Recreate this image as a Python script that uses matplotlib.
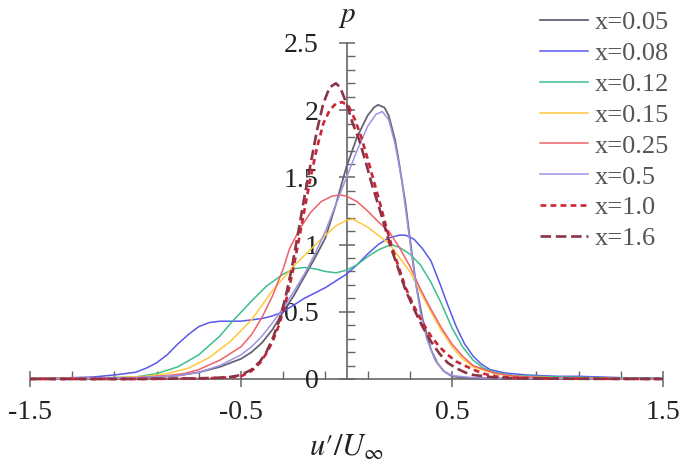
import numpy as np
import matplotlib
matplotlib.use('Agg')
import matplotlib.pyplot as plt
from matplotlib.ticker import MultipleLocator, FixedLocator, FormatStrFormatter

plt.rcParams['font.family'] = ['Liberation Serif', 'DejaVu Serif']
plt.rcParams['mathtext.fontset'] = 'stix'

# probability density of u'/U_inf at several downstream stations
u_005 = [-1.5, -1.2, -1.0, -0.9, -0.8, -0.7, -0.6, -0.5, -0.45, -0.4, -0.35, -0.3, -0.25, -0.2,
         -0.15, -0.1, -0.05, 0.0, 0.05, 0.1, 0.13, 0.15, 0.18, 0.2, 0.23, 0.25, 0.28, 0.3, 0.33,
         0.36, 0.4, 0.43, 0.46, 0.5, 0.55, 0.6, 0.8, 1.0, 1.5]
p_005 = [0.0, 0.005, 0.01, 0.015, 0.025, 0.05, 0.09, 0.15, 0.2, 0.27, 0.37, 0.5, 0.62, 0.76,
         0.9, 1.05, 1.3, 1.58, 1.8, 1.96, 2.02, 2.04, 2.02, 1.96, 1.78, 1.6, 1.3, 1.05, 0.7,
         0.45, 0.22, 0.12, 0.06, 0.02, 0.01, 0.005, 0.003, 0.002, 0.0]

u_008 = [-1.5, -1.3, -1.2, -1.1, -1.0, -0.95, -0.9, -0.85, -0.8, -0.75, -0.7, -0.65, -0.6, -0.55,
         -0.5, -0.45, -0.4, -0.35, -0.3, -0.25, -0.2, -0.15, -0.1, -0.05, 0.0, 0.05, 0.1, 0.15,
         0.2, 0.25, 0.28, 0.32, 0.36, 0.4, 0.44, 0.48, 0.52, 0.56, 0.6, 0.64, 0.68, 0.75, 0.85,
         1.0, 1.1, 1.2, 1.3, 1.5]
p_008 = [0.005, 0.01, 0.015, 0.03, 0.05, 0.08, 0.12, 0.18, 0.26, 0.33, 0.39, 0.42, 0.43, 0.43,
         0.43, 0.44, 0.45, 0.47, 0.5, 0.55, 0.6, 0.64, 0.68, 0.73, 0.78, 0.85, 0.93, 1.0,
         1.05, 1.07, 1.07, 1.04, 0.97, 0.88, 0.72, 0.55, 0.39, 0.26, 0.17, 0.11, 0.07, 0.045, 0.03,
         0.02, 0.02, 0.015, 0.01, 0.005]

u_012 = [-1.5, -1.2, -1.0, -0.9, -0.8, -0.7, -0.6, -0.54, -0.45, -0.38, -0.3, -0.25, -0.2, -0.15,
         -0.1, -0.05, 0.0, 0.05, 0.1, 0.15, 0.21, 0.25, 0.3, 0.35, 0.4, 0.45, 0.5, 0.55, 0.6,
         0.65, 0.7, 0.8, 1.0, 1.2, 1.5]
p_012 = [0.005, 0.008, 0.015, 0.04, 0.09, 0.18, 0.32, 0.43, 0.58, 0.69, 0.78, 0.82, 0.83, 0.82,
         0.8, 0.79, 0.81, 0.85, 0.91, 0.96, 1.0, 0.98, 0.93, 0.85, 0.72, 0.56, 0.38, 0.24, 0.14,
         0.08, 0.05, 0.025, 0.015, 0.01, 0.005]

u_015 = [-1.5, -1.1, -0.95, -0.85, -0.75, -0.65, -0.55, -0.45, -0.35, -0.25, -0.16, -0.1, -0.05,
         0.0, 0.03, 0.1, 0.2, 0.3, 0.35, 0.4, 0.45, 0.5, 0.55, 0.6, 0.7, 0.8, 1.0, 1.5]
p_015 = [0.003, 0.01, 0.02, 0.04, 0.08, 0.16, 0.28, 0.44, 0.66, 0.84, 0.98, 1.07, 1.14,
         1.18, 1.19, 1.13, 1.01, 0.8, 0.65, 0.5, 0.36, 0.24, 0.15, 0.09, 0.04, 0.02, 0.008, 0.0]

u_025 = [-1.5, -1.0, -0.85, -0.77, -0.7, -0.6, -0.5, -0.45, -0.4, -0.35, -0.3, -0.27, -0.22,
         -0.17, -0.12, -0.07, -0.03, 0.0, 0.05, 0.1, 0.15, 0.2, 0.25, 0.3, 0.35, 0.4, 0.45, 0.5,
         0.55, 0.6, 0.7, 0.8, 1.0, 1.5]
p_025 = [0.003, 0.01, 0.025, 0.04, 0.07, 0.14, 0.24, 0.33, 0.46, 0.62, 0.82, 0.97, 1.12,
         1.24, 1.32, 1.36, 1.37, 1.36, 1.32, 1.25, 1.17, 1.1, 0.98, 0.84, 0.67, 0.52, 0.38, 0.26,
         0.17, 0.1, 0.045, 0.02, 0.006, 0.0]

u_05 = [-1.5, -1.0, -0.8, -0.7, -0.6, -0.5, -0.45, -0.4, -0.35, -0.3, -0.25, -0.2, -0.15, -0.1,
        -0.05, 0.0, 0.05, 0.1, 0.14, 0.17, 0.2, 0.23, 0.26, 0.29, 0.32, 0.35, 0.38, 0.42, 0.46,
        0.5, 0.6, 0.8, 1.5]
p_05 = [0.0, 0.01, 0.025, 0.05, 0.1, 0.18, 0.24, 0.32, 0.42, 0.53, 0.65, 0.78, 0.93, 1.1,
        1.3, 1.5, 1.7, 1.88, 1.97, 1.99, 1.93, 1.75, 1.5, 1.15, 0.8, 0.5, 0.3, 0.14, 0.06,
        0.025, 0.01, 0.005, 0.0]

u_10 = [-1.5, -1.0, -0.7, -0.6, -0.5, -0.45, -0.41, -0.38, -0.35, -0.32, -0.29, -0.26, -0.23,
        -0.2, -0.17, -0.14, -0.11, -0.08, -0.05, -0.02, 0.01, 0.04, 0.07, 0.1, 0.13, 0.16, 0.19,
        0.22, 0.25, 0.28, 0.32, 0.36, 0.4, 0.44, 0.48, 0.52, 0.56, 0.6, 0.65, 0.7, 0.8, 1.0, 1.5]
p_10 = [0.0, 0.0, 0.004, 0.008, 0.02, 0.06, 0.12, 0.19, 0.28, 0.4, 0.56, 0.76, 1.0,
        1.25, 1.5, 1.72, 1.9, 2.0, 2.05, 2.06, 2.03, 1.93, 1.8, 1.64, 1.47, 1.3, 1.12,
        0.96, 0.82, 0.68, 0.54, 0.42, 0.32, 0.24, 0.18, 0.13, 0.1, 0.07, 0.04, 0.02, 0.008, 0.003, 0.0]

u_16 = [-1.5, -1.0, -0.7, -0.6, -0.55, -0.5, -0.45, -0.41, -0.38, -0.35, -0.32, -0.29, -0.26,
        -0.23, -0.2, -0.17, -0.14, -0.11, -0.08, -0.05, -0.03, 0.0, 0.03, 0.06, 0.09, 0.12, 0.15,
        0.18, 0.21, 0.25, 0.28, 0.32, 0.36, 0.4, 0.44, 0.48, 0.52, 0.56, 0.6, 0.7, 0.8, 1.0, 1.5]
p_16 = [0.0, 0.0, 0.005, 0.01, 0.015, 0.03, 0.07, 0.13, 0.2, 0.3, 0.43, 0.6, 0.82,
        1.08, 1.35, 1.6, 1.85, 2.05, 2.17, 2.2, 2.17, 2.05, 1.9, 1.78, 1.62, 1.45, 1.3,
        1.14, 0.98, 0.8, 0.66, 0.52, 0.39, 0.28, 0.19, 0.12, 0.08, 0.05, 0.03, 0.012, 0.005, 0.002, 0.0]

labels = ["x=0.05", "x=0.08", "x=0.12", "x=0.15", "x=0.25", "x=0.5", "x=1.0", "x=1.6"]
colors = ["#646474", "#5858ee", "#3cbf8c", "#ffc93c", "#f0606a", "#a092e4", "#cc2434", "#8a3446"]
styles = ["-", "-", "-", "-", "-", "-", (0, (2.2, 1.6)), (0, (4.0, 1.8))]
widths = [1.3, 1.1, 1.1, 1.1, 1.1, 1.1, 1.9, 1.9]

curves = [(u_005, p_005), (u_008, p_008), (u_012, p_012), (u_015, p_015),
          (u_025, p_025), (u_05, p_05), (u_10, p_10), (u_16, p_16)]

fig = plt.figure(figsize=(6.85, 4.68), dpi=100)
ax = fig.add_axes([30 / 685, 89 / 468, 633 / 685, 336 / 468])

for (u, p), lab, c, ls, lw in zip(curves, labels, colors, styles, widths):
    ax.plot(u, p, color=c, linestyle=ls, linewidth=lw, label=lab, clip_on=False)

ax.set_xlim(-1.5, 1.5)
ax.set_ylim(0, 2.5)

# axes cross at the origin
ax.spines['left'].set_position(('data', 0))
ax.spines['top'].set_visible(False)
ax.spines['right'].set_visible(False)
for s in ['left', 'bottom']:
    ax.spines[s].set_color('#666666')
    ax.spines[s].set_linewidth(1.2)
    ax.spines[s].set_zorder(0)

ax.xaxis.set_major_locator(FixedLocator([-1.5, -0.5, 0.5, 1.5]))
ax.xaxis.set_minor_locator(FixedLocator(np.round(np.arange(-1.3, 1.4, 0.2), 2)))
ax.xaxis.set_major_formatter(FormatStrFormatter('%g'))
ax.yaxis.set_major_locator(MultipleLocator(0.5))
ax.yaxis.set_minor_locator(MultipleLocator(0.1))
ax.yaxis.set_major_formatter(FormatStrFormatter('%g'))

ax.tick_params(which='major', direction='inout', length=12, width=1.1, color='#666666',
               labelsize=20, labelcolor='#222222')
ax.tick_params(which='minor', direction='in', length=6, width=1.0, color='#666666')
ax.tick_params(axis='x', which='major', pad=9)
ax.tick_params(axis='y', which='major', pad=14)

ax.text(0, 2.6, "$p$", fontsize=21, ha='center', va='bottom', color='#222222')
ax.set_xlabel("$u\u2032/U_\\infty$", fontsize=22, color='#222222', labelpad=6)

fig.legend(loc='upper left', bbox_to_anchor=(540 / 685, 0.977), frameon=False, fontsize=19,
           handlelength=1.8, handletextpad=0.27, labelspacing=0.28, borderpad=0,
           borderaxespad=0, labelcolor='#555555')

fig.savefig("out.png", dpi=100)
plt.close()
